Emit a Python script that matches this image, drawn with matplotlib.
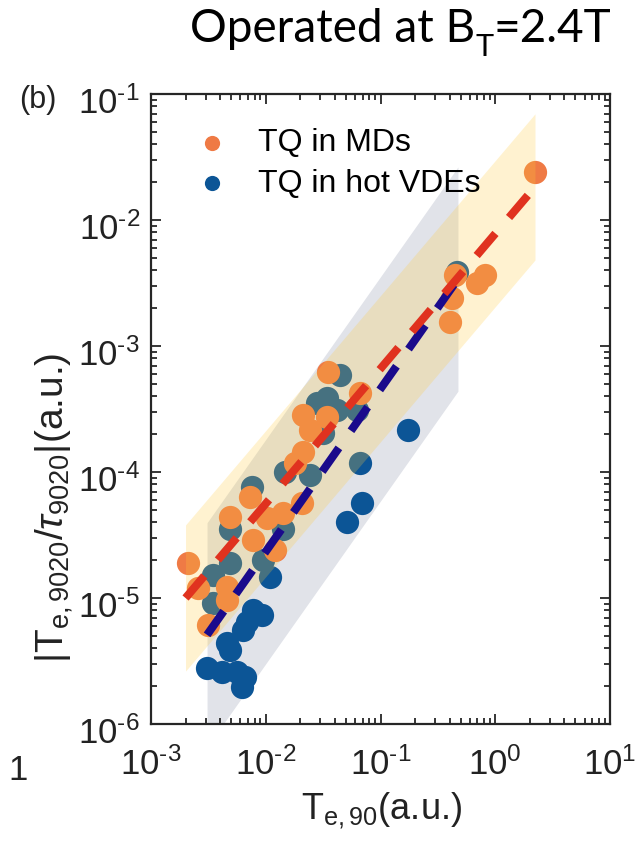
import numpy as np
import matplotlib
matplotlib.use("Agg")
import matplotlib.pyplot as plt
from matplotlib.transforms import ScaledTranslation

plt.rcParams['font.family'] = ['Liberation Sans', 'DejaVu Sans']
plt.rcParams['mathtext.fontset'] = 'custom'
plt.rcParams['mathtext.rm'] = 'Liberation Sans'
plt.rcParams['mathtext.it'] = 'Liberation Sans:italic'
plt.rcParams['mathtext.sf'] = 'Liberation Sans'

# --- data ---
# TQ in MDs (orange)
md_te90 = [0.0021, 0.00257, 0.00459, 0.00459, 0.00314, 0.00488, 0.00774, 0.0073,
           0.01026, 0.0121, 0.0141, 0.0207, 0.0211, 0.018, 0.0211, 0.0342,
           0.0243, 0.0348, 0.0662, 2.22, 0.446, 0.815, 0.693, 0.42, 0.404]
md_rate = [1.9e-5, 1.2e-5, 1.22e-5, 9.6e-6, 6.1e-6, 4.4e-5, 2.9e-5, 6.3e-5,
           4.3e-5, 2.4e-5, 4.7e-5, 5.7e-5, 1.44e-4, 1.18e-4, 2.83e-4, 2.73e-4,
           2.15e-4, 6.2e-4, 4.2e-4, 0.024, 3.66e-3, 3.66e-3, 3.16e-3, 2.4e-3, 1.55e-3]

# TQ in hot VDEs (blue)
vde_te90 = [0.0443, 0.0342, 0.028, 0.0418, 0.0624, 0.0316, 0.0147, 0.0243,
            0.0662, 0.00759, 0.00488, 0.0141, 0.00488, 0.00946, 0.00347, 0.00347,
            0.465, 0.0109, 0.00774, 0.00927, 0.00688, 0.00634, 0.00459, 0.00488,
            0.00308, 0.00416, 0.00561, 0.00659, 0.00621, 0.069, 0.051, 0.174]
vde_rate = [5.9e-4, 3.9e-4, 3.5e-4, 3.1e-4, 3.1e-4, 2.04e-4, 1.0e-4, 9.5e-5,
            1.18e-4, 7.6e-5, 3.5e-5, 3.5e-5, 1.9e-5, 2.0e-5, 1.52e-5, 9.1e-6,
            3.9e-3, 1.47e-5, 8.0e-6, 7.3e-6, 6.5e-6, 5.6e-6, 4.4e-6, 3.9e-6,
            2.8e-6, 2.6e-6, 2.6e-6, 2.36e-6, 1.97e-6, 5.7e-5, 4.0e-5, 2.15e-4]

# power-law fits: end points (x0, x1), (y0, y1) and band half width in decades
md_fit_x = [0.002, 2.22]
md_fit_y = [1.0e-5, 0.0183]
md_band = 0.58
vde_fit_x = [0.00308, 0.473]
vde_fit_y = [5.1e-6, 3.4e-3]
vde_band = 0.89

xticks = [1e-3, 1e-2, 1e-1, 1e0, 1e1]
yticks = [1e-6, 1e-5, 1e-4, 1e-3, 1e-2, 1e-1]


def pow_label(v):
    e = int(round(np.log10(v)))
    return '$10^{\\text{%d}}$' % e


c_md = '#EF7A45'
c_vde = '#0C5596'

fig = plt.figure(figsize=(6.39, 8.42), dpi=100)
ax = fig.add_axes([151/639, 1-724/842, 459/639, 630/842])

# bands
fx = np.array(vde_fit_x)
fy = np.array(vde_fit_y)
ax.fill_between(fx, fy/10**vde_band, fy*10**vde_band, color='#E1E3E9', lw=0, zorder=1)

ax.scatter(vde_te90, vde_rate, s=280, color=c_vde, lw=0, zorder=2)
ax.scatter(md_te90, md_rate, s=280, color=c_md, lw=0, zorder=3)

mx = np.array(md_fit_x)
my = np.array(md_fit_y)
ax.fill_between(mx, my/10**md_band, my*10**md_band, color=(1.0, 203/255, 59/255),
                alpha=0.24, lw=0, zorder=4)

ax.plot(fx, fy, color='#1A0A8C', lw=5.8, dashes=(3.6, 2.6), dash_capstyle='butt',
        zorder=5)
ax.plot(mx, my, color='#E0321F', lw=5.8, dashes=(3.6, 2.6), dash_capstyle='butt',
        zorder=6)

ax.set_xscale('log')
ax.set_yscale('log')
ax.set_xlim(1e-3, 1e1)
ax.set_ylim(1e-6, 1e-1)
ax.set_xticks(xticks)
ax.set_xticklabels([pow_label(v) for v in xticks])
ax.set_yticks(yticks)
ax.set_yticklabels([pow_label(v) for v in yticks])
ax.tick_params(which='both', direction='in', top=True, right=True, width=1.3,
               colors='#262626', labelcolor='#222222', labelsize=25)
ax.tick_params(which='major', length=7)
ax.tick_params(which='minor', length=4)
ax.tick_params(axis='x', pad=17)
ax.tick_params(axis='y', pad=8)
shift = ScaledTranslation(0, -7/72, fig.dpi_scale_trans)
for lab in ax.get_yticklabels():
    lab.set_verticalalignment('center')
    lab.set_transform(lab.get_transform() + shift)
for sp in ax.spines.values():
    sp.set_linewidth(1.6)
    sp.set_color('#262626')

# legend
h1 = ax.scatter([], [], s=120, color=c_md, lw=0)
h2 = ax.scatter([], [], s=120, color=c_vde, lw=0)
ax.legend([h1, h2], ['TQ in MDs', 'TQ in hot VDEs'], loc='upper left',
          bbox_to_anchor=(0.035, 0.966), frameon=False, fontsize=23,
          handletextpad=0.45, labelspacing=0.33, borderaxespad=0.0)

# labels
fig.text(382/639, 1-811/842, 'T$_{\\mathrm{e,90}}$(a.u.)', fontsize=26,
         ha='center', va='center', color='#222222')
fig.text(54/639, 1-508/842, '|T$_{\\mathrm{e,9020}}$/$\\tau_{\\mathrm{9020}}$|(a.u.)',
         fontsize=28, rotation=90, ha='center', va='center', color='#222222')
fig.text(38/639, 1-100/842, '(b)', fontsize=22, ha='center', va='center', color='#222222')
fig.text(18/639, 1-770/842, '1', fontsize=25, ha='center', va='center', color='#222222')

# title pieces: "Operated at B" + subscript "T" + "=2.4T"
t1 = fig.text(190/639, 1-50/842, 'Operated at B', fontsize=33, family='Lato',
              ha='left', va='bottom', color='black')
t2 = ax.annotate('T', xy=(1, 0), xycoords=t1, xytext=(0, -8), textcoords='offset points',
                 fontsize=22, family='Lato', ha='left', va='bottom', color='black')
t3 = ax.annotate('=2.4T', xy=(1, 0), xycoords=(t2, t1), fontsize=33, family='Lato',
                 ha='left', va='bottom', color='black')

fig.savefig('out.png', dpi=100)
